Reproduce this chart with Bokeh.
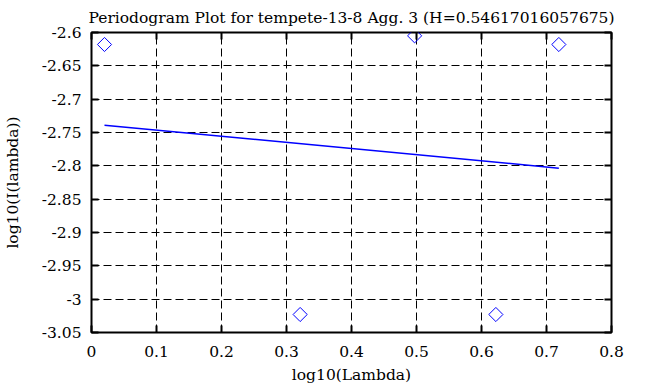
from bokeh.plotting import figure
from bokeh.models import Range1d, FixedTicker, LinearAxis, CustomJSTickFormatter
from bokeh.embed import file_html
from bokeh.resources import INLINE
import math

# data
log_lambda = [0.0200, 0.3210, 0.4971, 0.6221, 0.7190]
log_I = [-2.618, -3.023, -2.605, -3.023, -2.618]
fit_x = [0.0200, 0.7190]
fit_y = [-2.739, -2.8035]

x_ticks = [0.0, 0.1, 0.2, 0.3, 0.4, 0.5, 0.6, 0.7, 0.8]
x_tick_labels = ["0", "0.1", "0.2", "0.3", "0.4", "0.5", "0.6", "0.7", "0.8"]
y_ticks = [-3.05, -3.0, -2.95, -2.9, -2.85, -2.8, -2.75, -2.7, -2.65, -2.6]
y_tick_labels = ["-3.05", "-3", "-2.95", "-2.9", "-2.85", "-2.8", "-2.75", "-2.7", "-2.65", "-2.6"]

title_text = "Periodogram Plot for tempete-13-8 Agg. 3 (H=0.54617016057675)"
FONT = "DejaVu Serif"
FS = "15.5px"

JS = """
let best = 0, bd = 1e9;
for (let i = 0; i < tv.length; i++) {
  const d = Math.abs(tv[i] - tick);
  if (d < bd) { bd = d; best = i; }
}
return tl[best];
"""

p = figure(frame_width=520, frame_height=300, output_backend="svg", toolbar_location=None,
           x_range=Range1d(0, 0.8), y_range=Range1d(-3.05, -2.6),
           min_border_left=91, min_border_right=52, min_border_top=31, min_border_bottom=56,
           title=title_text)
p.background_fill_color = "white"
p.border_fill_color = "white"
p.outline_line_color = "black"
p.outline_line_width = 2

p.title.text_font = FONT
p.title.text_font_size = FS
p.title.text_font_style = "normal"
p.title.text_color = "black"
p.title.align = "center"
p.title.standoff = 12
p.title.offset = 0

xt = FixedTicker(ticks=x_ticks)
yt = FixedTicker(ticks=y_ticks)

for ax in p.xaxis:
    ax.ticker = xt
    ax.formatter = CustomJSTickFormatter(args=dict(tv=x_ticks, tl=x_tick_labels), code=JS)
    ax.axis_label = "log10(Lambda)"
    ax.major_label_standoff = 13
    ax.axis_label_standoff = 6
for ax in p.yaxis:
    ax.ticker = yt
    ax.formatter = CustomJSTickFormatter(args=dict(tv=y_ticks, tl=y_tick_labels), code=JS)
    ax.axis_label = "log10(I(lambda))"
    ax.axis_label_standoff = 17
    ax.major_label_standoff = 10

for ax in list(p.xaxis) + list(p.yaxis):
    ax.axis_line_color = None
    ax.major_tick_in = 7
    ax.major_tick_out = 0
    ax.major_tick_line_width = 2
    ax.major_tick_line_color = "black"
    ax.minor_tick_line_color = None
    ax.major_label_text_font = FONT
    ax.major_label_text_font_size = FS
    ax.major_label_text_font_style = "normal"
    ax.major_label_text_color = "black"
    ax.axis_label_text_font = FONT
    ax.axis_label_text_font_size = FS
    ax.axis_label_text_font_style = "normal"
    ax.axis_label_text_color = "black"

# mirrored ticks on top and right (no labels)
blank = "return '';"
top = LinearAxis(ticker=FixedTicker(ticks=x_ticks), axis_line_color=None,
                 formatter=CustomJSTickFormatter(code=blank),
                 major_tick_in=7, major_tick_out=0, major_tick_line_width=2,
                 minor_tick_line_color=None, major_label_standoff=0)
right = LinearAxis(ticker=FixedTicker(ticks=y_ticks), axis_line_color=None,
                   formatter=CustomJSTickFormatter(code=blank),
                   major_tick_in=7, major_tick_out=0, major_tick_line_width=2,
                   minor_tick_line_color=None, major_label_standoff=0)
p.add_layout(top, "above")
p.add_layout(right, "right")

p.xgrid.ticker = xt
p.ygrid.ticker = yt
for g in (p.xgrid, p.ygrid):
    g.grid_line_color = "black"
    g.grid_line_dash = "8 4"
    g.grid_line_width = 1

p.line(fit_x, fit_y, line_color="#0000ff", line_width=1.5)
p.scatter(log_lambda, log_I, marker="square", angle=math.pi / 4, size=10,
          fill_color=None, line_color="#0000ff", line_width=1)

open("out.html", "w").write(file_html(p, INLINE))
